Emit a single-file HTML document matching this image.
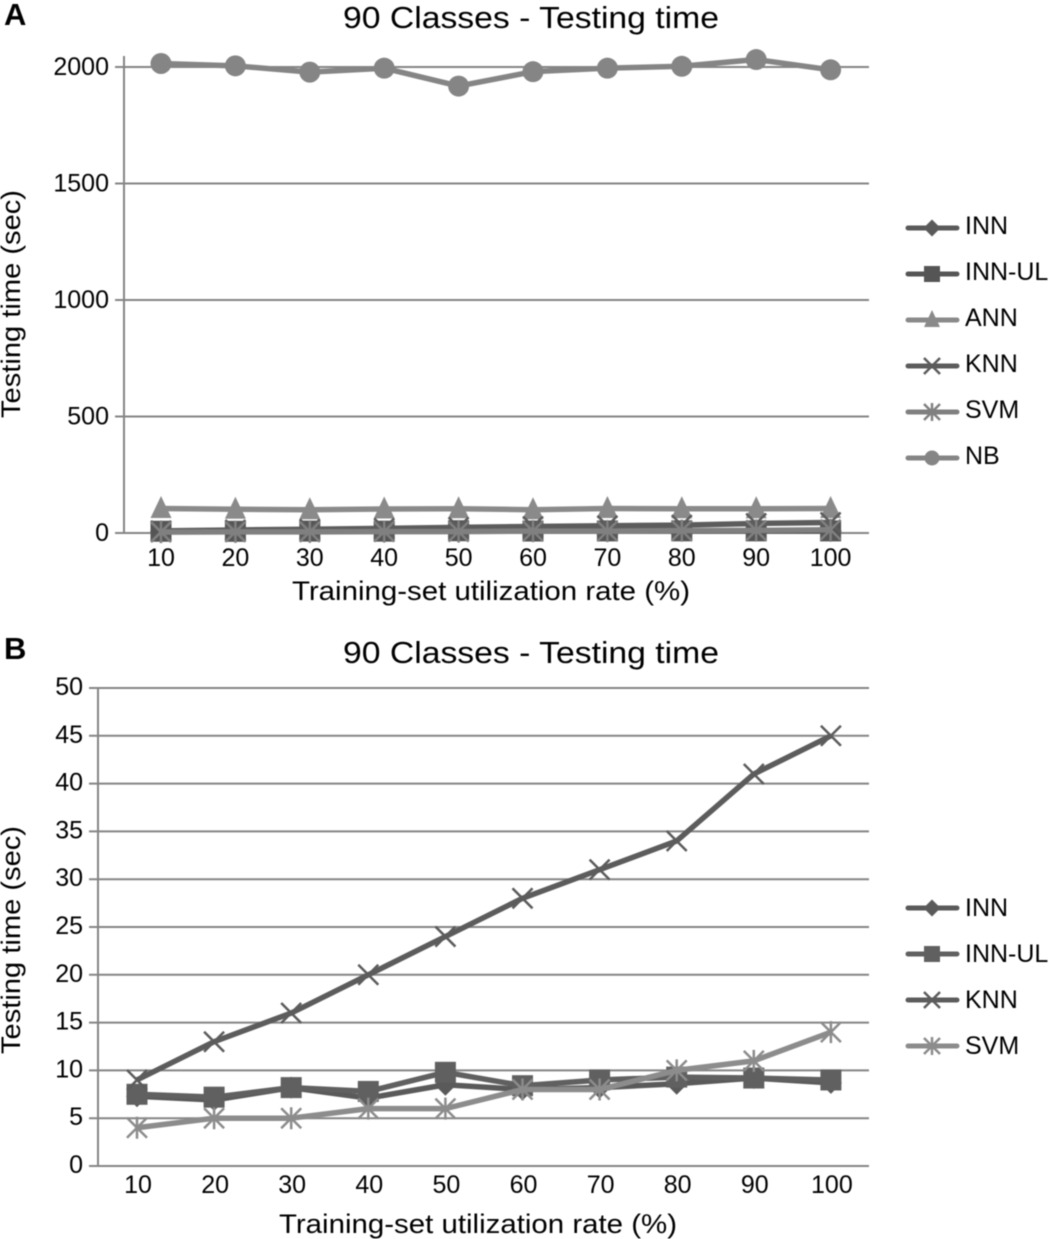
<!DOCTYPE html>
<html>
<head>
<meta charset="utf-8">
<title>90 Classes - Testing time</title>
<style>
html,body{margin:0;padding:0;background:#fff;}
svg{display:block;filter:blur(0.4px);}
text{font-family:"Liberation Sans",Arial,sans-serif;fill:#000;}
</style>
</head>
<body>
<svg id="chart" width="1049" height="1239" viewBox="0 0 1049 1239" xmlns="http://www.w3.org/2000/svg"></svg>
<script>
const categories = [10, 20, 30, 40, 50, 60, 70, 80, 90, 100];
const ticksA = [0, 500, 1000, 1500, 2000];
const ticksB = [0, 5, 10, 15, 20, 25, 30, 35, 40, 45, 50];

const innA = [7.3, 6.9, 8.2, 7.1, 8.5, 8.0, 8.2, 8.6, 9.2, 8.7];
const innUlA = [7.5, 7.2, 8.2, 7.8, 9.8, 8.4, 9.0, 9.3, 9.2, 9.0];
const annA = [105, 102, 100, 103, 104, 100, 105, 104, 104, 105];
const knnA = [9, 13, 16, 20, 24, 28, 31, 34, 41, 45];
const svmA = [4, 5, 5, 6, 6, 8, 8, 10, 11, 14];
const nbA = [2015, 2005, 1978, 1995, 1918, 1980, 1995, 2003, 2032, 1988];

const innB = [7.3, 6.9, 8.2, 7.1, 8.5, 8.0, 8.2, 8.6, 9.2, 8.7];
const innUlB = [7.5, 7.2, 8.2, 7.8, 9.8, 8.4, 9.0, 9.3, 9.2, 9.0];
const knnB = [9, 13, 16, 20, 24, 28, 31, 34, 41, 45];
const svmB = [4, 5, 5, 6, 6, 8, 8, 10, 11, 14];

const svg = document.getElementById('chart');
const NS = 'http://www.w3.org/2000/svg';

function make(tag, attrs, parent) {
  const el = document.createElementNS(NS, tag);
  for (const k in attrs) el.setAttribute(k, attrs[k]);
  (parent || svg).appendChild(el);
  return el;
}

function drawMarker(g, type, x, y, color, s) {
  if (type === 'diamond') {
    make('polygon', {points: [x, y - s, x + s, y, x, y + s, x - s, y].join(' '), fill: color}, g);
  } else if (type === 'square') {
    make('rect', {x: x - s, y: y - s, width: 2 * s, height: 2 * s, fill: color}, g);
  } else if (type === 'triangle') {
    make('polygon', {points: [x, y - s - 2, x + s, y + s - 1, x - s, y + s - 1].join(' '), fill: color}, g);
  } else if (type === 'x') {
    make('path', {d: `M${x - s} ${y - s}L${x + s} ${y + s}M${x + s} ${y - s}L${x - s} ${y + s}`, stroke: color, 'stroke-width': 2.5, fill: 'none'}, g);
  } else if (type === 'star') {
    make('path', {d: `M${x - s} ${y - s}L${x + s} ${y + s}M${x + s} ${y - s}L${x - s} ${y + s}M${x} ${y - s - 1}L${x} ${y + s + 1}`, stroke: color, 'stroke-width': 2.5, fill: 'none'}, g);
  } else if (type === 'circle') {
    make('circle', {cx: x, cy: y, r: s, fill: color}, g);
  }
}

function drawPanel(p) {
  const sx = i => p.x0 + i * p.xStep;
  const sy = v => p.yZero - (v / p.yMax) * (p.yZero - p.yTop);

  const panel = make('g', {});
  
  

  const letter = make('text', {x: 4, y: p.letterY, 'font-size': 31, 'font-weight': 'bold'}, panel);
  letter.textContent = p.letter;
  
  

  const title = make('text', {x: 531, y: p.titleY, 'font-size': 31, 'text-anchor': 'middle', textLength: 376, lengthAdjust: 'spacingAndGlyphs'}, panel);
  title.textContent = '90 Classes - Testing time';
  
  

  p.ticks.forEach(t => {
    const y = sy(t);
    const line = make('line', {x1: p.axisX - 9, x2: 869, y1: y, y2: y, stroke: '#858585', 'stroke-width': 2}, panel);
    
    
    const label = make('text', {x: p.axisX - 15, y: y + p.yTickOffset, 'font-size': 25, 'text-anchor': 'end'}, panel);
    label.textContent = t;
    
    
  });

  const axis = make('line', {x1: p.axisX, x2: p.axisX, y1: p.axisTop, y2: p.yZero + 1, stroke: '#858585', 'stroke-width': 2}, panel);
  
  

  categories.forEach((c, i) => {
    const label = make('text', {x: sx(i) + p.xTickShift, y: p.xTickY, 'font-size': 25, 'text-anchor': 'middle'}, panel);
    label.textContent = c;
    
    
  });

  const xTitle = make('text', {x: p.xTitleX, y: p.xTitleY, 'font-size': 27, 'text-anchor': 'middle', textLength: p.xTitleW, lengthAdjust: 'spacingAndGlyphs'}, panel);
  xTitle.textContent = 'Training-set utilization rate (%)';
  
  

  const yTitle = make('text', {x: 0, y: 0, 'font-size': 27, 'text-anchor': 'middle', transform: `translate(20 ${p.yTitleY}) rotate(-90)`, textLength: 228, lengthAdjust: 'spacingAndGlyphs'}, panel);
  yTitle.textContent = 'Testing time (sec)';
  
  

  p.series.forEach((s) => {
    const g = make('g', {}, panel);
    
    
    const pts = s.values.map((v, i) => sx(i) + ',' + sy(v)).join(' ');
    const line = make('polyline', {points: pts, fill: 'none', stroke: s.color, 'stroke-width': 5.5, 'stroke-linejoin': 'round'}, g);
    
    
    s.values.forEach((v, i) => {
      const m = make('g', {}, g);
      
      
      drawMarker(m, s.marker, sx(i), sy(v), s.color, s.size);
    });
  });

  p.series.forEach((s, i) => {
    const y = p.legendY + i * 46;
    const g = make('g', {}, panel);
    
    
    make('line', {x1: 908, x2: 957, y1: y, y2: y, stroke: s.color, 'stroke-width': 5, 'stroke-linecap': 'round'}, g);
    drawMarker(g, s.marker, 932, y, s.color, s.legendSize);
    const t = make('text', {x: 965, y: y + p.legendOffset, 'font-size': 25}, g);
    t.textContent = s.name;
  });
}

drawPanel({
  id: 'panel-a', letter: 'A', letterY: 25, titleY: 28,
  axisX: 124, axisTop: 56, yZero: 533, yTop: 67, yMax: 2000, yTickOffset: 8,
  x0: 161, xStep: 74.4, ticks: ticksA, xTickY: 566, xTickShift: 0,
  xTitleX: 491, xTitleY: 600, xTitleW: 398, yTitleY: 304, legendY: 228, legendOffset: 6,
  series: [
    {name: 'INN', values: innA, color: '#5a5a5a', marker: 'diamond', size: 11, legendSize: 8.5},
    {name: 'INN-UL', values: innUlA, color: '#555555', marker: 'square', size: 10.5, legendSize: 8},
    {name: 'ANN', values: annA, color: '#8a8a8a', marker: 'triangle', size: 10.5, legendSize: 8},
    {name: 'KNN', values: knnA, color: '#5c5c5c', marker: 'x', size: 10, legendSize: 8},
    {name: 'SVM', values: svmA, color: '#808080', marker: 'star', size: 10, legendSize: 8},
    {name: 'NB', values: nbA, color: '#858585', marker: 'circle', size: 10.5, legendSize: 7.5}
  ]
});

drawPanel({
  id: 'panel-b', letter: 'B', letterY: 659, titleY: 663,
  axisX: 98, axisTop: 688, yZero: 1166, yTop: 688, yMax: 50, yTickOffset: 7,
  x0: 137, xStep: 77.1, ticks: ticksB, xTickY: 1193, xTickShift: 1,
  xTitleX: 478, xTitleY: 1233, xTitleW: 398, yTitleY: 940, legendY: 908, legendOffset: 8,
  series: [
    {name: 'INN', values: innB, color: '#5a5a5a', marker: 'diamond', size: 11, legendSize: 8.5},
    {name: 'INN-UL', values: innUlB, color: '#606060', marker: 'square', size: 10.5, legendSize: 8},
    {name: 'KNN', values: knnB, color: '#5c5c5c', marker: 'x', size: 10, legendSize: 8},
    {name: 'SVM', values: svmB, color: '#8c8c8c', marker: 'star', size: 10, legendSize: 8}
  ]
});
</script>
</body>
</html>
